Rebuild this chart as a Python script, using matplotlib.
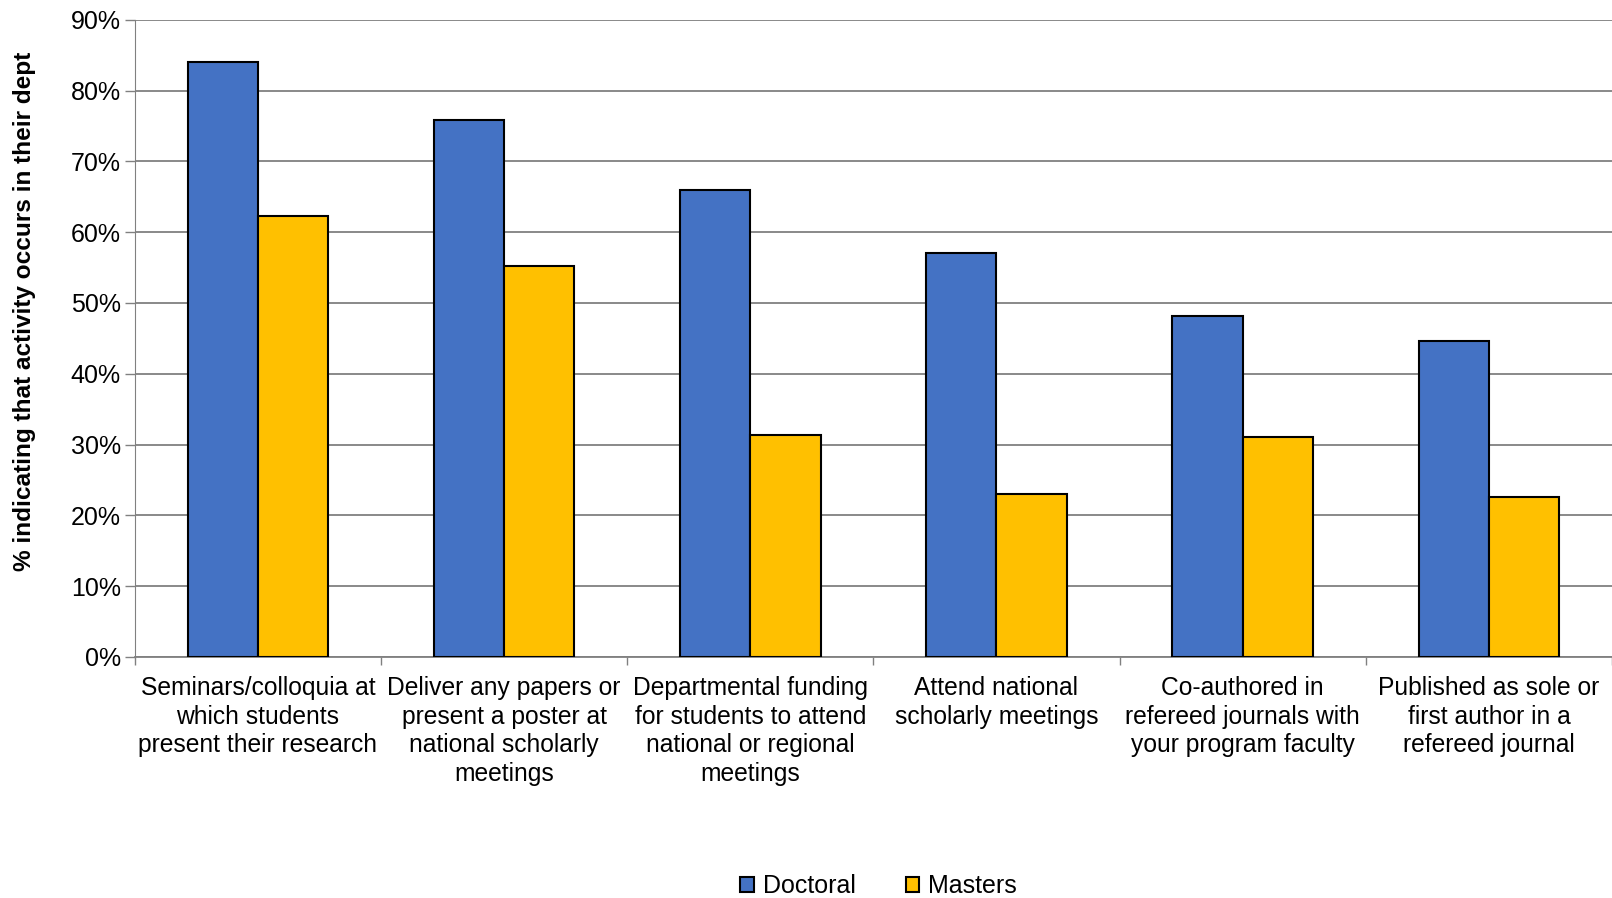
import numpy as np
import matplotlib
matplotlib.use("Agg")
import matplotlib.pyplot as plt
from matplotlib.ticker import FixedLocator, PercentFormatter

plt.rcParams['font.family'] = ['Liberation Sans', 'DejaVu Sans']

# data
categories = [
    "Seminars/colloquia at\nwhich students\npresent their research",
    "Deliver any papers or\npresent a poster at\nnational scholarly\nmeetings",
    "Departmental funding\nfor students to attend\nnational or regional\nmeetings",
    "Attend national\nscholarly meetings",
    "Co-authored in\nrefereed journals with\nyour program faculty",
    "Published as sole or\nfirst author in a\nrefereed journal",
]
doctoral = [84.0, 75.8, 66.0, 57.0, 48.1, 44.6]
masters = [62.3, 55.2, 31.3, 23.0, 31.1, 22.6]
series_names = ["Doctoral", "Masters"]
yticks = [0, 10, 20, 30, 40, 50, 60, 70, 80, 90]

fig = plt.figure(figsize=(16.12, 8.98), dpi=100)
ax = fig.add_axes([0.0836, 0.2684, 0.9164, 0.7096])

x = np.arange(len(categories))
w = 1 / 3.5  # gap width 150%
ax.bar(x - w / 2, doctoral, w, color="#4472C4", edgecolor="black", linewidth=1.5,
       label=series_names[0], zorder=3)
ax.bar(x + w / 2, masters, w, color="#FFC000", edgecolor="black", linewidth=1.5,
       label=series_names[1], zorder=3)

ax.set_xlim(-0.5, len(categories) - 0.5)
ax.set_ylim(0, 90)
ax.set_yticks(yticks)
ax.yaxis.set_major_formatter(PercentFormatter(decimals=0))
ax.grid(axis="y", color="#808080", linewidth=1.3, zorder=0)

ax.set_xticks(x)
ax.set_xticklabels(categories, fontsize=17.7, linespacing=1.23)
ax.tick_params(axis="x", which="major", length=0, pad=14)
ax.xaxis.set_minor_locator(FixedLocator(np.arange(-0.5, len(categories), 1.0)))
ax.tick_params(axis="x", which="minor", length=6, color="#808080", width=1)
ax.tick_params(axis="y", labelsize=18, length=7, color="#808080", width=1, pad=3)

for s in ["top", "right"]:
    ax.spines[s].set_visible(False)
ax.spines["left"].set_color("#808080")
ax.spines["bottom"].set_color("#808080")
ax.spines["bottom"].set_linewidth(1.3)

fig.text(0.0155, 1 - 311 / 898, "% indicating that activity occurs in their dept",
         rotation=90, ha="center", va="center", fontsize=17.6, fontweight="bold")

fig.legend(loc="center", bbox_to_anchor=(0.545, 0.0134), ncol=2, frameon=False,
           fontsize=18, handlelength=0.55, handleheight=0.55, handletextpad=0.35,
           columnspacing=2.0)

fig.savefig("out.png", dpi=100)
